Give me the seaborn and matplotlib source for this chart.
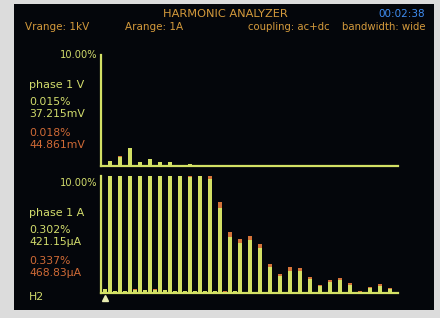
import matplotlib
matplotlib.use('Agg')
import matplotlib.pyplot as plt
import seaborn as sns
from matplotlib.patches import Rectangle

# harmonic orders H2 .. H60
harmonics = [2, 3, 4, 5, 6, 7, 8, 9, 10, 11,
             12, 13, 14, 15, 16, 17, 18, 19, 20, 21,
             22, 23, 24, 25, 26, 27, 28, 29, 30, 31,
             32, 33, 34, 35, 36, 37, 38, 39, 40, 41,
             42, 43, 44, 45, 46, 47, 48, 49, 50, 51,
             52, 53, 54, 55, 56, 57, 58, 59, 60]

# phase 1 V, % of fundamental (green = reading 1, orange = reading 2)
volt_green = [0.015, 0.45, 0.02, 0.84, 0.02, 1.60, 0.02, 0.33, 0.01, 0.60,
              0.01, 0.36, 0.01, 0.36, 0.01, 0.03, 0.01, 0.15, 0.0, 0.01,
              0.0, 0.01, 0.0, 0.0, 0.0, 0.0, 0.0, 0.0, 0.0, 0.0,
              0.0, 0.0, 0.0, 0.0, 0.0, 0.0, 0.0, 0.0, 0.0, 0.0,
              0.0, 0.0, 0.0, 0.0, 0.0, 0.0, 0.0, 0.0, 0.0, 0.0,
              0.0, 0.0, 0.0, 0.0, 0.0, 0.0, 0.0, 0.0, 0.0]
volt_orange = [0.018, 0.48, 0.02, 0.88, 0.02, 1.66, 0.02, 0.35, 0.01, 0.63,
               0.01, 0.38, 0.01, 0.38, 0.01, 0.03, 0.01, 0.16, 0.0, 0.01,
               0.0, 0.01, 0.0, 0.0, 0.0, 0.0, 0.0, 0.0, 0.0, 0.0,
               0.0, 0.0, 0.0, 0.0, 0.0, 0.0, 0.0, 0.0, 0.0, 0.0,
               0.0, 0.0, 0.0, 0.0, 0.0, 0.0, 0.0, 0.0, 0.0, 0.0,
               0.0, 0.0, 0.0, 0.0, 0.0, 0.0, 0.0, 0.0, 0.0]

# phase 1 A, % of fundamental
amp_green = [0.302, 14.0, 0.12, 13.0, 0.10, 12.5, 0.25, 12.0, 0.20, 11.8,
             0.25, 11.5, 0.20, 11.0, 0.12, 10.6, 0.10, 9.95, 0.10, 10.2,
             0.12, 9.70, 0.10, 7.23, 0.08, 4.79, 0.15, 4.27, 0.06, 4.50,
             0.0, 3.79, 0.0, 2.21, 0.0, 1.42, 0.0, 1.87, 0.0, 1.85,
             0.0, 1.16, 0.0, 0.52, 0.0, 0.90, 0.0, 1.07, 0.0, 0.64,
             0.0, 0.08, 0.0, 0.40, 0.0, 0.60, 0.0, 0.33, 0.0]
amp_orange = [0.337, 15.0, 0.14, 14.0, 0.11, 13.5, 0.28, 13.0, 0.22, 12.8,
              0.28, 12.5, 0.22, 12.0, 0.13, 11.5, 0.11, 10.8, 0.11, 11.0,
              0.13, 10.4, 0.11, 7.80, 0.09, 5.20, 0.17, 4.57, 0.07, 4.85,
              0.0, 4.14, 0.0, 2.45, 0.0, 1.59, 0.0, 2.21, 0.0, 2.13,
              0.0, 1.36, 0.0, 0.64, 0.0, 1.07, 0.0, 1.27, 0.0, 0.79,
              0.0, 0.10, 0.0, 0.50, 0.0, 0.73, 0.0, 0.41, 0.0]

GREEN = '#d3e065'
ORANGE = '#d4743a'
TXT_GREEN = '#d2dc6c'
TXT_ORANGE = '#d06a36'
HEAD = '#d49a3c'
BLUE = '#3f8df2'

W, H = 440, 318
fig = plt.figure(figsize=(4.4, 3.18), dpi=100)
fig.patch.set_facecolor('#dcdcdc')


def fx(x):
    return x / W


def fy(y):
    return 1 - y / H


# the screen, kept behind the axes
fig.add_artist(Rectangle((fx(14), fy(310)), fx(420), 306 / H,
                         transform=fig.transFigure, facecolor='#04060b',
                         edgecolor='none', zorder=-5))

sns.set_style('dark')
rc_font = ['DejaVu Sans']


def spectrum(ax, green, orange):
    ax.set_facecolor('none')
    sns.barplot(x=harmonics, y=orange, native_scale=True, width=0.75,
                color=ORANGE, saturation=1, errorbar=None, ax=ax, zorder=2,
                edgecolor='none', linewidth=0)
    sns.barplot(x=harmonics, y=green, native_scale=True, width=0.75,
                color=GREEN, saturation=1, errorbar=None, ax=ax, zorder=3,
                edgecolor='none', linewidth=0)
    ax.set_xlim(1.2, 60.6)
    ax.set_ylim(0, 10)
    ax.set_xticks([])
    ax.set_yticks([])
    ax.set_xlabel('')
    ax.set_ylabel('')
    ax.grid(False)
    for s in ['top', 'right']:
        ax.spines[s].set_visible(False)
    for s in ['left', 'bottom']:
        ax.spines[s].set_visible(True)
        ax.spines[s].set_color(GREEN)
        ax.spines[s].set_linewidth(1.6)
        ax.spines[s].set_zorder(4)


ax1 = fig.add_axes([fx(101), fy(166), (398 - 101) / W, (166 - 55) / H])
spectrum(ax1, volt_green, volt_orange)

ax2 = fig.add_axes([fx(101), fy(292.5), (398 - 101) / W, (292.5 - 176) / H])
spectrum(ax2, amp_green, amp_orange)

# cursor marker under H2
ax2.plot([harmonics[0]], [-0.45], marker='^', markersize=5, color='#e8ecb0',
         clip_on=False, zorder=5)

# header
fig.text(fx(225), fy(14), 'HARMONIC ANALYZER', color=HEAD, fontsize=8.2,
         ha='center', va='center', family=rc_font)
fig.text(fx(425), fy(14), '00:02:38', color=BLUE, fontsize=7.5,
         ha='right', va='center', family=rc_font)
fig.text(fx(25), fy(27), 'Vrange: 1kV', color=HEAD, fontsize=7.5,
         ha='left', va='center', family=rc_font)
fig.text(fx(125), fy(27), 'Arange: 1A', color=HEAD, fontsize=7.5,
         ha='left', va='center', family=rc_font)
fig.text(fx(330), fy(27), 'coupling: ac+dc', color=HEAD, fontsize=7.3,
         ha='right', va='center', family=rc_font)
fig.text(fx(425), fy(27), 'bandwidth: wide', color=HEAD, fontsize=7.3,
         ha='right', va='center', family=rc_font)

# left readouts
for dy, name, g1, g2, o1, o2 in [
        (0, 'phase 1 V', '0.015%', '37.215mV', '0.018%', '44.861mV'),
        (128, 'phase 1 A', '0.302%', '421.15µA', '0.337%', '468.83µA')]:
    fig.text(fx(97), fy(55 + dy), '10.00%', color=TXT_GREEN, fontsize=7.1,
             ha='right', va='center', family=rc_font)
    fig.text(fx(29), fy(85 + dy), name, color=TXT_GREEN, fontsize=8,
             ha='left', va='center', family=rc_font)
    fig.text(fx(29), fy(102 + dy), g1, color=TXT_GREEN, fontsize=7.8,
             ha='left', va='center', family=rc_font)
    fig.text(fx(29), fy(114 + dy), g2, color=TXT_GREEN, fontsize=7.8,
             ha='left', va='center', family=rc_font)
    fig.text(fx(29), fy(133 + dy), o1, color=TXT_ORANGE, fontsize=7.8,
             ha='left', va='center', family=rc_font)
    fig.text(fx(29), fy(145 + dy), o2, color=TXT_ORANGE, fontsize=7.8,
             ha='left', va='center', family=rc_font)

fig.text(fx(29), fy(297), 'H2', color=TXT_GREEN, fontsize=7.8,
         ha='left', va='center', family=rc_font)

plt.savefig('out.png', dpi=100)
